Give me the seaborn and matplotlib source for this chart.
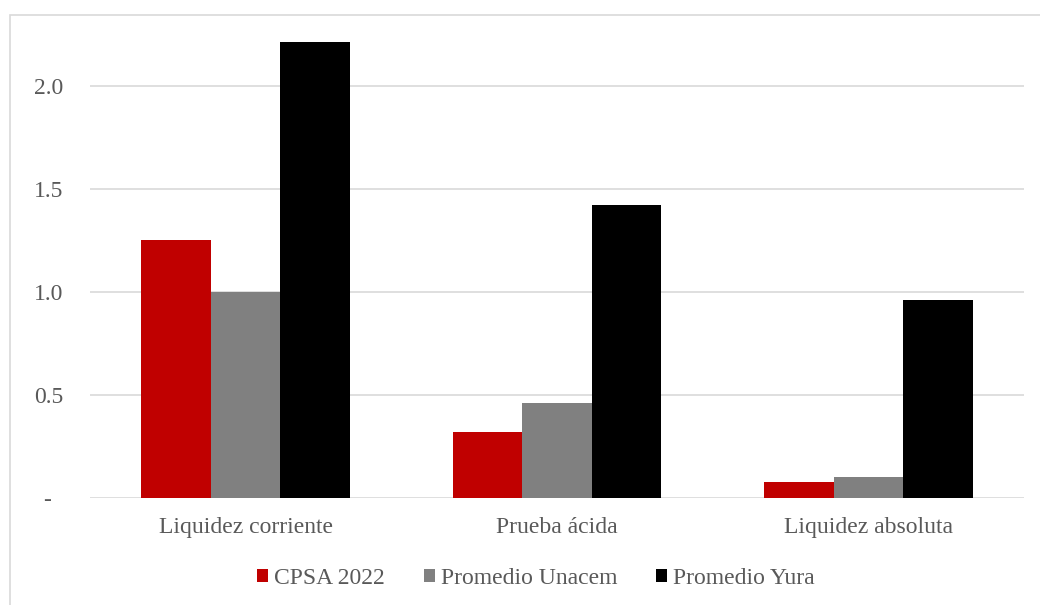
import matplotlib
matplotlib.use("Agg")
import matplotlib.pyplot as plt
import seaborn as sns
import pandas as pd
from matplotlib.patches import Rectangle

categories = ["Liquidez corriente", "Prueba ácida", "Liquidez absoluta"]
series_names = ["CPSA 2022", "Promedio Unacem", "Promedio Yura"]
cpsa_2022 = [1.25, 0.32, 0.08]
promedio_unacem = [1.00, 0.46, 0.10]
promedio_yura = [2.21, 1.42, 0.96]
y_ticks = [0.0, 0.5, 1.0, 1.5, 2.0]
y_tick_labels = ["-  ", "0.5", "1.0", "1.5", "2.0"]

colors = ["#C00000", "#808080", "#000000"]

rows = []
for name, vals in zip(series_names, [cpsa_2022, promedio_unacem, promedio_yura]):
    for c, v in zip(categories, vals):
        rows.append({"Indicador": c, "Serie": name, "Valor": v})
df = pd.DataFrame(rows)

sns.set_theme(style="white")
plt.rcParams["font.family"] = ["Liberation Serif", "DejaVu Serif"]

fs = 17

fig = plt.figure(figsize=(10.4, 6.05), dpi=100)
ax = fig.add_axes([90 / 1040, 1 - 498 / 605, (1024 - 90) / 1040, (498 - 34) / 605])

sns.barplot(data=df, x="Indicador", y="Valor", hue="Serie", order=categories,
            hue_order=series_names, palette=colors, width=0.67, gap=0,
            saturation=1, ax=ax, errorbar=None, linewidth=0, legend=True)

ax.set_xlim(-0.5, 2.5)
ax.set_ylim(0, 2.25)
ax.set_yticks(y_ticks)
ax.set_yticklabels(y_tick_labels)
ax.yaxis.grid(True, color="#D9D9D9", linewidth=1.2)
ax.set_axisbelow(True)
for s in ax.spines.values():
    s.set_visible(False)
ax.set_xlabel("")
ax.set_ylabel("")
ax.tick_params(axis="y", length=0, pad=19, labelsize=fs, labelcolor="#595959")
ax.tick_params(axis="x", length=0, pad=14, labelsize=fs, labelcolor="#595959")

leg = ax.legend(loc="center", bbox_to_anchor=(536 / 1040, (605 - 578) / 605), bbox_transform=fig.transFigure,
                ncol=3, frameon=False, fontsize=fs, handlelength=0.47, handleheight=0.47,
                handletextpad=0.25, columnspacing=1.65, borderpad=0)
for t in leg.get_texts():
    t.set_color("#595959")

fig.patches.append(Rectangle((10 / 1040, -0.1), 1.2, (605 - 15) / 605 + 0.1,
                             transform=fig.transFigure, fill=False,
                             edgecolor="#D9D9D9", linewidth=1.2, zorder=0))

fig.savefig("out.png", dpi=100, facecolor="white")
